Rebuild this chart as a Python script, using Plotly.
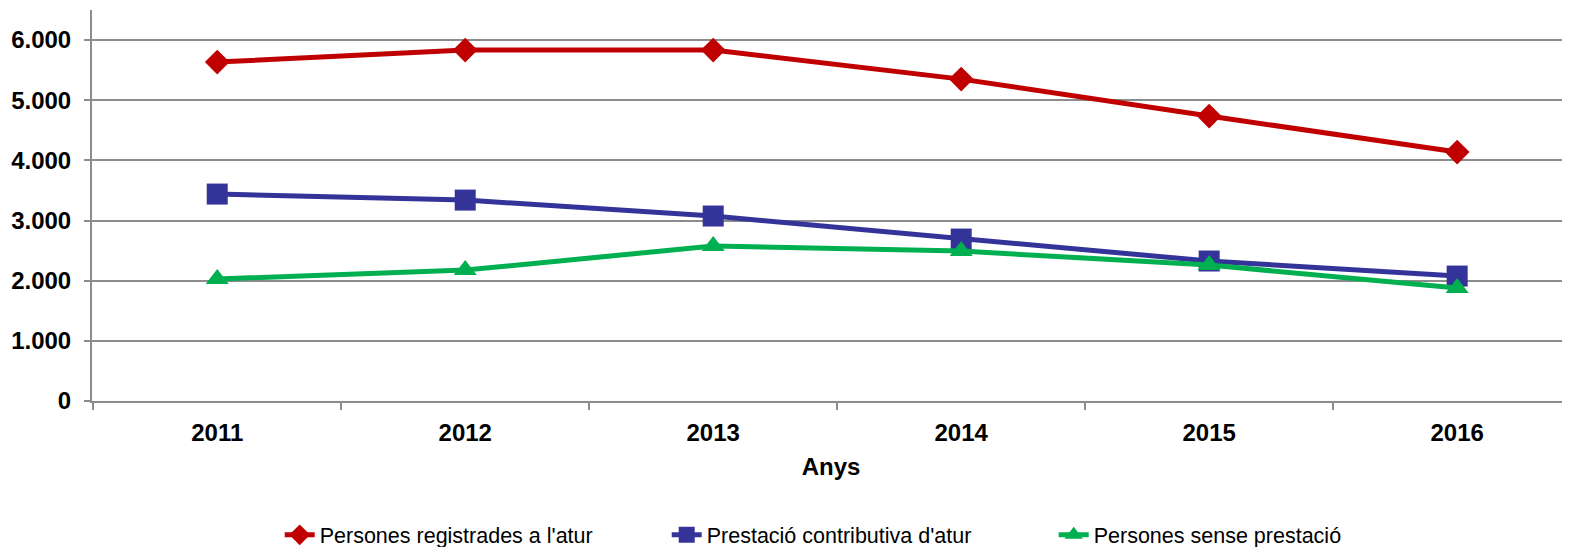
import plotly.graph_objects as go

years = ["2011", "2012", "2013", "2014", "2015", "2016"]
registrades = [5634, 5834, 5834, 5351, 4737, 4138]
contributiva = [3440, 3340, 3075, 2692, 2327, 2077]
sense = [2028, 2177, 2576, 2493, 2260, 1878]
y_ticks = [0, 1000, 2000, 3000, 4000, 5000, 6000]
y_labels = ["0", "1.000", "2.000", "3.000", "4.000", "5.000", "6.000"]

fig = go.Figure()
fig.add_trace(go.Scatter(x=years, y=registrades, name="Persones registrades a l'atur",
                         mode="lines+markers", line=dict(color="#C00000", width=5),
                         marker=dict(symbol="diamond", size=19, color="#C00000")))
fig.add_trace(go.Scatter(x=years, y=contributiva, name="Prestació contributiva d'atur",
                         mode="lines+markers", line=dict(color="#333399", width=5),
                         marker=dict(symbol="square", size=21, color="#333399")))
fig.add_trace(go.Scatter(x=years, y=sense, name="Persones sense prestació",
                         mode="lines+markers", line=dict(color="#00B050", width=5),
                         marker=dict(symbol="triangle-up", size=20, color="#00B050")))

fig.update_layout(
    width=1562, height=539,
    margin=dict(l=84, r=0, t=2, b=146, autoexpand=False),
    paper_bgcolor="white", plot_bgcolor="white",
    font=dict(family="Liberation Sans, Arial, sans-serif", color="black"),
    showlegend=True,
    legend=dict(orientation="h", x=0.127, xanchor="left", y=-0.29, yanchor="top",
                font=dict(size=21.5), entrywidth=342, entrywidthmode="pixels",
                tracegroupgap=0),
    xaxis=dict(type="category", range=[-0.505, 5.455], tickson="boundaries",
               ticks="outside", ticklen=7, tickcolor="#8c8c8c", tickwidth=2,
               showline=True, linecolor="#8c8c8c", linewidth=2, showgrid=False,
               automargin=False, ticklabelstandoff=9,
               tickfont=dict(size=24, weight="bold"),
               title=dict(text="Anys", font=dict(size=24, weight="bold"), standoff=13)),
    yaxis=dict(range=[0, 6500], tickvals=y_ticks, ticktext=y_labels,
               ticks="outside", ticklen=6, tickcolor="#8c8c8c", tickwidth=2,
               showline=True, linecolor="#8c8c8c", linewidth=2, automargin=False,
               showgrid=True, gridcolor="#8c8c8c", gridwidth=2, zeroline=False,
               ticklabelstandoff=8,
               tickfont=dict(size=24, weight="bold")),
)

fig.write_html("out.html")
